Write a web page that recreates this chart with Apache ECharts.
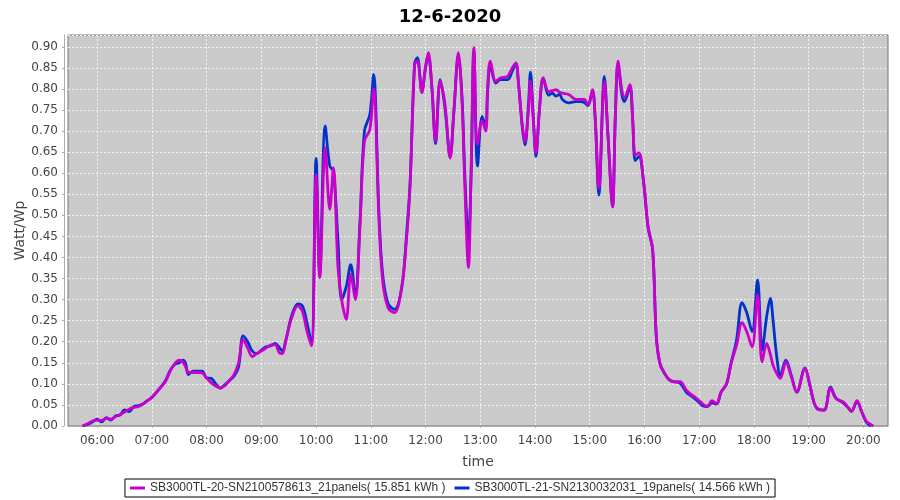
<!DOCTYPE html>
<html>
<head>
<meta charset="utf-8">
<script src="https://cdn.jsdelivr.net/npm/echarts@6/dist/echarts.min.js"></script>
<style>
  html, body { margin: 0; padding: 0; background: #fff; }
  #chart { width: 900px; height: 500px; }
</style>
</head>
<body>
<div id="chart"></div>
<script>
// sample times (HH:MM)
const times = [
  '05:44', '05:50', '05:55', '06:00', '06:05', '06:10', '06:15', '06:20', '06:25', '06:30',
  '06:35', '06:40', '06:45', '06:50', '06:55', '07:00', '07:05', '07:10', '07:15', '07:20',
  '07:25', '07:30', '07:34', '07:37', '07:40', '07:45', '07:50', '07:55', '08:00', '08:05',
  '08:10', '08:15', '08:20', '08:25', '08:30', '08:35', '08:40', '08:45', '08:50', '08:55',
  '09:00', '09:05', '09:10', '09:15', '09:20', '09:23', '09:27', '09:33', '09:40', '09:45',
  '09:50', '09:55', '10:00', '10:04', '10:10', '10:15', '10:19', '10:24', '10:28', '10:33',
  '10:38', '10:43', '10:48', '10:53', '10:59', '11:03', '11:09', '11:13', '11:19', '11:26',
  '11:34', '11:39', '11:43', '11:48', '11:51', '11:56', '12:00', '12:03', '12:07', '12:11',
  '12:16', '12:21', '12:27', '12:31', '12:36', '12:40', '12:43', '12:47', '12:50', '12:53',
  '12:57', '13:02', '13:06', '13:08', '13:11', '13:17', '13:22', '13:30', '13:35', '13:39',
  '13:42', '13:46', '13:49', '13:53', '13:55', '13:58', '14:01', '14:05', '14:09', '14:15',
  '14:19', '14:23', '14:27', '14:30', '14:37', '14:45', '14:50', '14:54', '14:58', '15:03',
  '15:06', '15:10', '15:16', '15:20', '15:25', '15:28', '15:31', '15:35', '15:38', '15:44',
  '15:47', '15:50', '15:54', '15:59', '16:04', '16:09', '16:13', '16:17', '16:22', '16:27',
  '16:32', '16:39', '16:46', '16:51', '16:55', '17:00', '17:04', '17:09', '17:14', '17:19',
  '17:24', '17:30', '17:35', '17:41', '17:47', '17:52', '17:58', '18:04', '18:09', '18:14',
  '18:18', '18:21', '18:25', '18:29', '18:35', '18:41', '18:47', '18:56', '19:01', '19:06',
  '19:10', '19:17', '19:24', '19:30', '19:38', '19:43', '19:47', '19:53', '19:58', '20:03',
  '20:08', '20:11'
];

// SB3000TL-20 (magenta), Watt/Wp
const sb20 = [
  0.000, 0.006, 0.012, 0.014, 0.013, 0.018, 0.016, 0.022, 0.027, 0.033,
  0.040, 0.044, 0.046, 0.052, 0.060, 0.068, 0.080, 0.093, 0.106, 0.130,
  0.148, 0.156, 0.152, 0.140, 0.127, 0.127, 0.127, 0.126, 0.114, 0.103,
  0.095, 0.090, 0.096, 0.108, 0.122, 0.150, 0.205, 0.185, 0.165, 0.172,
  0.178, 0.185, 0.192, 0.193, 0.173, 0.172, 0.205, 0.255, 0.285, 0.272,
  0.225, 0.190, 0.597, 0.352, 0.660, 0.514, 0.613, 0.376, 0.300, 0.253,
  0.360, 0.300, 0.470, 0.676, 0.704, 0.800, 0.486, 0.344, 0.280, 0.269,
  0.332, 0.439, 0.569, 0.858, 0.866, 0.791, 0.854, 0.886, 0.803, 0.676,
  0.819, 0.770, 0.636, 0.743, 0.886, 0.770, 0.573, 0.376, 0.613, 0.898,
  0.668, 0.724, 0.700, 0.802, 0.866, 0.818, 0.826, 0.830, 0.850, 0.862,
  0.810, 0.715, 0.675, 0.755, 0.818, 0.730, 0.648, 0.755, 0.826, 0.794,
  0.796, 0.798, 0.792, 0.790, 0.787, 0.775, 0.775, 0.775, 0.763, 0.798,
  0.730, 0.564, 0.818, 0.690, 0.520, 0.730, 0.866, 0.800, 0.780, 0.810,
  0.730, 0.644, 0.648, 0.580, 0.474, 0.418, 0.212, 0.148, 0.125, 0.110,
  0.105, 0.105, 0.085, 0.075, 0.069, 0.060, 0.052, 0.047, 0.060, 0.053,
  0.081, 0.100, 0.148, 0.192, 0.245, 0.225, 0.188, 0.311, 0.152, 0.196,
  0.170, 0.144, 0.125, 0.113, 0.152, 0.117, 0.081, 0.137, 0.100, 0.055,
  0.041, 0.037, 0.089, 0.065, 0.057, 0.045, 0.035, 0.060, 0.035, 0.012,
  0.004, 0.000
];

// SB3000TL-21 (blue), Watt/Wp
const sb21 = [
  0.000, 0.004, 0.010, 0.016, 0.010, 0.020, 0.014, 0.024, 0.026, 0.038,
  0.034, 0.046, 0.048, 0.052, 0.060, 0.068, 0.080, 0.093, 0.108, 0.132,
  0.146, 0.150, 0.156, 0.148, 0.122, 0.130, 0.130, 0.130, 0.114, 0.113,
  0.100, 0.090, 0.098, 0.108, 0.118, 0.140, 0.214, 0.200, 0.178, 0.172,
  0.180, 0.188, 0.190, 0.196, 0.185, 0.178, 0.205, 0.260, 0.290, 0.285,
  0.245, 0.195, 0.635, 0.360, 0.712, 0.617, 0.605, 0.440, 0.300, 0.330,
  0.383, 0.310, 0.480, 0.700, 0.740, 0.834, 0.500, 0.360, 0.290, 0.277,
  0.330, 0.450, 0.575, 0.860, 0.874, 0.795, 0.850, 0.880, 0.800, 0.670,
  0.822, 0.760, 0.640, 0.745, 0.880, 0.780, 0.600, 0.440, 0.600, 0.890,
  0.617, 0.735, 0.710, 0.790, 0.856, 0.814, 0.822, 0.822, 0.842, 0.860,
  0.810, 0.710, 0.667, 0.770, 0.840, 0.740, 0.640, 0.755, 0.826, 0.785,
  0.790, 0.783, 0.787, 0.775, 0.767, 0.770, 0.770, 0.768, 0.760, 0.795,
  0.730, 0.548, 0.830, 0.690, 0.520, 0.730, 0.860, 0.790, 0.770, 0.805,
  0.730, 0.630, 0.640, 0.580, 0.470, 0.418, 0.212, 0.148, 0.125, 0.110,
  0.105, 0.102, 0.080, 0.072, 0.065, 0.056, 0.048, 0.046, 0.055, 0.052,
  0.080, 0.100, 0.150, 0.205, 0.293, 0.270, 0.224, 0.347, 0.180, 0.260,
  0.303, 0.250, 0.165, 0.120, 0.156, 0.120, 0.080, 0.138, 0.100, 0.055,
  0.040, 0.038, 0.092, 0.066, 0.055, 0.044, 0.035, 0.058, 0.035, 0.010,
  0.000, null
];

// x axis tick labels
const hourTicks = [
  '06:00', '07:00', '08:00', '09:00', '10:00', '11:00', '12:00', '13:00',
  '14:00', '15:00', '16:00', '17:00', '18:00', '19:00', '20:00'
];

const seriesNames = [
  'SB3000TL-20-SN2100578613_21panels( 15.851 kWh )',
  'SB3000TL-21-SN2130032031_19panels( 14.566 kWh )'
];
const seriesColors = ['#cc00cc', '#0033cc'];

function toMinutes(s) {
  const [h, m] = s.split(':').map(Number);
  return h * 60 + m;
}

function pad(n) {
  return (n < 10 ? '0' : '') + n;
}

function pairs(values) {
  return times
    .map((t, i) => [toMinutes(t), values[i]])
    .filter((p) => p[1] !== null);
}

const hourValues = hourTicks.map(toMinutes);

const chart = echarts.init(document.getElementById('chart'));

const font = 'DejaVu Sans';

const option = {
  animation: false,
  textStyle: { fontFamily: font },
  title: {
    text: '12-6-2020',
    left: 'center',
    top: 3,
    textStyle: { fontFamily: font, fontSize: 18, fontWeight: 'bold', color: '#000' }
  },
  legend: {
    bottom: 3,
    left: 'center',
    data: seriesNames,
    icon: 'rect',
    itemWidth: 15,
    itemHeight: 3,
    itemGap: 9,
    padding: [3, 5],
    borderColor: '#000',
    borderWidth: 1,
    textStyle: { fontFamily: 'Liberation Sans', fontSize: 12, color: '#333' }
  },
  grid: {
    left: 68,
    right: 12,
    top: 35,
    bottom: 74,
    show: true,
    backgroundColor: '#cacaca',
    borderColor: '#777',
    borderWidth: 1
  },
  xAxis: {
    type: 'value',
    min: 328,
    max: 1227,
    offset: 4,
    name: 'time',
    nameLocation: 'middle',
    nameGap: 25,
    nameMoveOverlap: false,
    nameTextStyle: { fontFamily: font, fontSize: 14, color: '#444' },
    axisLine: { show: true, lineStyle: { color: '#aaa' } },
    axisTick: { show: true, length: 2, customValues: hourValues, lineStyle: { color: '#aaa' } },
    axisLabel: {
      fontFamily: font,
      fontSize: 12,
      color: '#444',
      margin: 5,
      customValues: hourValues,
      formatter: (v) => pad(Math.floor(v / 60)) + ':' + pad(v % 60)
    },
    splitLine: { show: true, lineStyle: { color: '#f4f4f4', type: [2, 2], width: 1 } }
  },
  yAxis: {
    type: 'value',
    min: 0,
    max: 0.928,
    interval: 0.05,
    offset: 4,
    name: 'Watt/Wp',
    nameLocation: 'middle',
    nameGap: 37,
    nameMoveOverlap: false,
    nameTextStyle: { fontFamily: font, fontSize: 14, color: '#444' },
    axisLine: { show: true, lineStyle: { color: '#aaa' } },
    axisTick: { show: true, length: 2, lineStyle: { color: '#aaa' } },
    axisLabel: {
      fontFamily: font,
      fontSize: 12,
      color: '#444',
      margin: 6,
      showMaxLabel: false,
      formatter: (v) => v.toFixed(2)
    },
    splitLine: { show: true, lineStyle: { color: '#f4f4f4', type: [2, 2], width: 1 } }
  },
  series: [
    {
      name: seriesNames[1],
      type: 'line',
      data: pairs(sb21),
      smooth: 0.35,
      showSymbol: false,
      color: seriesColors[1],
      lineStyle: { width: 2.8, color: seriesColors[1] },
      z: 2
    },
    {
      name: seriesNames[0],
      type: 'line',
      data: pairs(sb20),
      smooth: 0.35,
      showSymbol: false,
      color: seriesColors[0],
      lineStyle: { width: 2.8, color: seriesColors[0] },
      z: 3
    }
  ]
};

chart.setOption(option);
</script>
</body>
</html>
